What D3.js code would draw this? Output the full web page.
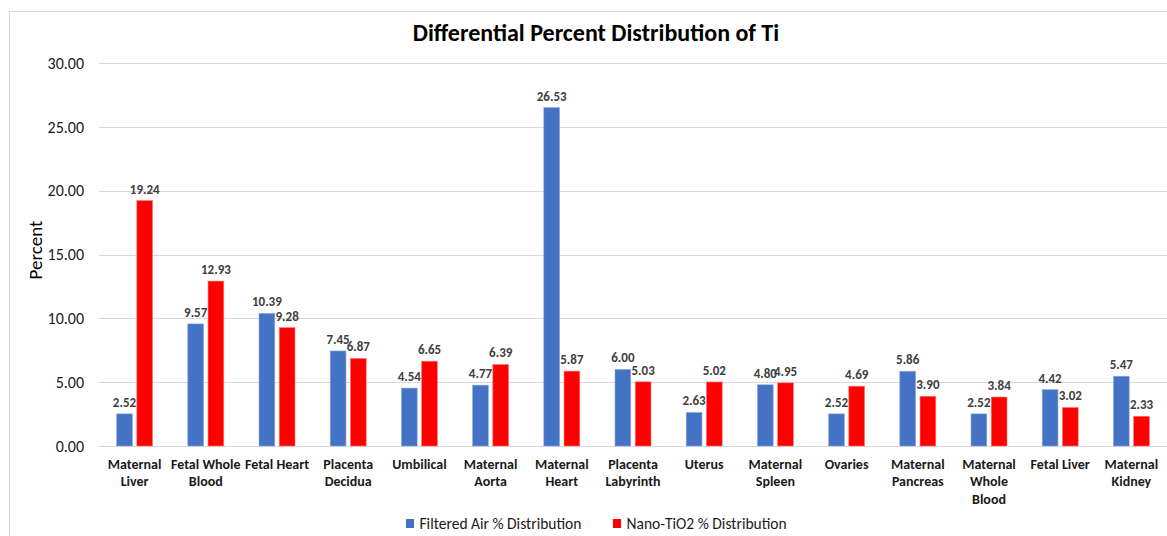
<!DOCTYPE html>
<html>
<head>
<meta charset="utf-8">
<script src="https://cdn.jsdelivr.net/npm/d3@7"></script>
<style>
  html, body { margin: 0; padding: 0; background: #fff; }
  svg { display: block; }
  text { font-family: Carlito, Lato, "Open Sans", sans-serif; }
</style>
</head>
<body>
<svg id="chart" width="1167" height="536"></svg>
<script>
// Tissue categories (label lines split for wrapping)
const categories = [
  ["Maternal", "Liver"],
  ["Fetal Whole", "Blood"],
  ["Fetal Heart"],
  ["Placenta", "Decidua"],
  ["Umbilical"],
  ["Maternal", "Aorta"],
  ["Maternal", "Heart"],
  ["Placenta", "Labyrinth"],
  ["Uterus"],
  ["Maternal", "Spleen"],
  ["Ovaries"],
  ["Maternal", "Pancreas"],
  ["Maternal", "Whole", "Blood"],
  ["Fetal Liver"],
  ["Maternal", "Kidney"]
];
const filteredAir = [2.52, 9.57, 10.39, 7.45, 4.54, 4.77, 26.53, 6.00, 2.63, 4.80, 2.52, 5.86, 2.52, 4.42, 5.47];
const nanoTiO2   = [19.24, 12.93, 9.28, 6.87, 6.65, 6.39, 5.87, 5.03, 5.02, 4.95, 4.69, 3.90, 3.84, 3.02, 2.33];
const seriesNames = ["Filtered Air % Distribution", "Nano-TiO2 % Distribution"];
const seriesColors = ["#4472C4", "#FF0000"];
const yTicks = [0, 5, 10, 15, 20, 25, 30];

const svg = d3.select("#chart");
const W = 1167, H = 536;
const plot = { left: 99, right: 1167, top: 63.3, bottom: 446 };

// outer chart frame
svg.append("rect")
  .attr("x", 9.5).attr("y", 11.5)
  .attr("width", W + 20).attr("height", H + 20)
  .attr("fill", "#fff").attr("stroke", "#d9d9d9").attr("stroke-width", 1);

const keys = categories.map(c => c.join(" "));
const x = d3.scaleBand().domain(keys).range([plot.left, plot.right]).paddingInner(0).paddingOuter(0);
const y = d3.scaleLinear().domain([0, 30]).range([plot.bottom, plot.top]);
const x1 = d3.scaleBand().domain([0, 1]).range([x.bandwidth() / 2 - 18, x.bandwidth() / 2 + 18]).paddingInner(0.22);

// gridlines
svg.append("g")
  .selectAll("line").data(yTicks).join("line")
  .attr("x1", plot.left).attr("x2", plot.right)
  .attr("y1", d => Math.round(y(d)) + 0.5).attr("y2", d => Math.round(y(d)) + 0.5)
  .attr("stroke", "#d9d9d9").attr("stroke-width", 1);

// y axis labels
const yAxis = d3.axisLeft(y).tickValues(yTicks).tickFormat(d3.format(".2f")).tickSize(0).tickPadding(15);
svg.append("g")
  .attr("transform", `translate(${plot.left},0)`)
  .call(yAxis)
  .call(g => g.select(".domain").remove())
  .call(g => g.selectAll("text")
    .attr("font-family", "Carlito, Lato, 'Open Sans', sans-serif")
    .attr("font-size", 16).attr("fill", "#1a1a1a"));

// bars
const groups = svg.append("g").selectAll("g").data(keys).join("g")
  .attr("transform", d => `translate(${x(d)},0)`);
const series = [filteredAir, nanoTiO2];
groups.each(function (k, i) {
  const g = d3.select(this);
  series.forEach((vals, s) => {
    const v = vals[i];
    g.append("rect")
      .attr("x", x1(s)).attr("width", x1.bandwidth())
      .attr("y", y(v)).attr("height", y(0) - y(v))
      .attr("fill", seriesColors[s])
      .attr("stroke", s === 0 ? "#8fa9dc" : "#ff7a7a").attr("stroke-width", 0.6);
    g.append("text")
      .attr("x", x1(s) + x1.bandwidth() / 2)
      .attr("y", y(v) - 7)
      .attr("text-anchor", "middle")
      .attr("font-size", 13).attr("font-weight", "bold")
      .attr("fill", "#404040")
      .text(d3.format(".2f")(v));
  });
});

// category labels
const catG = svg.append("g").selectAll("text").data(categories).join("text")
  .attr("x", (d, i) => x(keys[i]) + x.bandwidth() / 2)
  .attr("y", 469)
  .attr("text-anchor", "middle")
  .attr("font-size", 14).attr("font-weight", "bold").attr("fill", "#1a1a1a");
catG.each(function (lines) {
  const t = d3.select(this);
  lines.forEach((ln, j) => {
    t.append("tspan").attr("x", t.attr("x")).attr("dy", j === 0 ? 0 : 17.3).text(ln);
  });
});

// title
svg.append("text")
  .attr("x", 596).attr("y", 41)
  .attr("text-anchor", "middle")
  .attr("font-size", 24).attr("font-weight", "bold").attr("fill", "#000")
  .text("Differential Percent Distribution of Ti");

// y axis title
svg.append("text")
  .attr("transform", "translate(42,250) rotate(-90)")
  .attr("text-anchor", "middle")
  .attr("font-size", 19).attr("fill", "#000")
  .text("Percent");

// legend
const legend = svg.append("g");
const legendX = [406, 613];
seriesNames.forEach((name, s) => {
  legend.append("rect")
    .attr("x", legendX[s]).attr("y", 519)
    .attr("width", 8).attr("height", 9)
    .attr("fill", seriesColors[s]);
  legend.append("text")
    .attr("x", legendX[s] + 13.5).attr("y", 529)
    .attr("font-size", 15.5).attr("fill", "#1a1a1a")
    .text(name);
});
</script>
</body>
</html>
